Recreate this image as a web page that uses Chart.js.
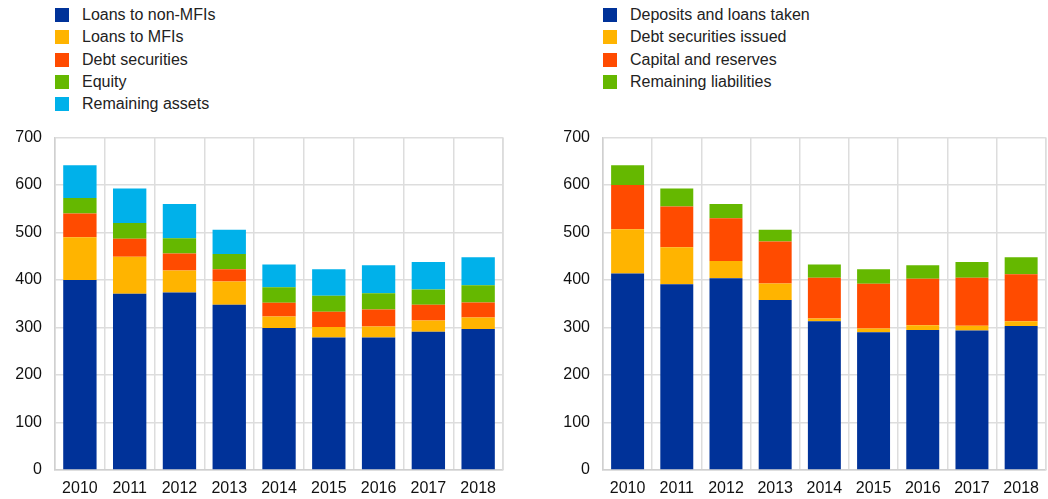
<!DOCTYPE html>
<html>
<head>
<meta charset="utf-8">
<script src="https://cdn.jsdelivr.net/npm/chart.js@4/dist/chart.umd.min.js"></script>
<style>
  html, body { margin: 0; padding: 0; background: #fff; }
  body { width: 1048px; height: 499px; position: relative; overflow: hidden; font-family: "Liberation Sans", Arial, sans-serif; }
  .legend { position: absolute; top: 4px; margin: 0; padding: 0; list-style: none; z-index: 2; }
  .legend li { height: 22.3px; line-height: 22px; font-size: 16px; color: #222; white-space: nowrap; position: relative; padding-left: 27px; }
  .legend li span { position: absolute; left: 0; top: 4px; width: 14px; height: 14px; }
  .box { position: absolute; top: 115px; height: 384px; }
</style>
</head>
<body>
<ul class="legend" id="legL" style="left:55px"></ul>
<ul class="legend" id="legR" style="left:603px"></ul>
<div class="box" style="left:0; width:505px"><canvas id="cL"></canvas></div>
<div class="box" style="left:548px; width:500px"><canvas id="cR"></canvas></div>
<script>
const years = ["2010","2011","2012","2013","2014","2015","2016","2017","2018"];
const yTicks = [0,100,200,300,400,500,600,700];

// Assets (left panel)
const assetNames = ["Loans to non-MFIs","Loans to MFIs","Debt securities","Equity","Remaining assets"];
const loansNonMFI   = [400,371,374,348,299,279,279,291,297];
const loansMFI      = [90, 78, 46, 49, 24, 22, 23, 24, 24];
const debtSec       = [50, 38, 36, 26, 29, 32, 36, 33, 32];
const equity        = [33, 33, 32, 32, 33, 34, 34, 32, 36];
const remainingAss  = [69, 73, 72, 51, 48, 56, 59, 58, 59];

// Liabilities (right panel)
const liabNames = ["Deposits and loans taken","Debt securities issued","Capital and reserves","Remaining liabilities"];
const depositsLoans = [414,391,404,358,313,290,295,294,303];
const debtIssued    = [93, 78, 36, 35, 6,  8,  10, 10, 10];
const capitalRes    = [93, 86, 90, 88, 86, 94, 98, 101,99];
const remainingLiab = [42, 38, 30, 25, 28, 31, 28, 33, 36];

const colors5 = ["#003299","#FFB400","#FF4B00","#65B800","#00B1EA"];
const colors4 = ["#003299","#FFB400","#FF4B00","#65B800"];

function legend(id, names, cols) {
  const ul = document.getElementById(id);
  names.forEach((n,i) => {
    const li = document.createElement('li');
    const s = document.createElement('span');
    s.style.background = cols[i];
    li.appendChild(s);
    li.appendChild(document.createTextNode(n));
    ul.appendChild(li);
  });
}
legend('legL', assetNames, colors5);
legend('legR', liabNames, colors4);

function makeChart(id, names, series, cols) {
  return new Chart(document.getElementById(id), {
    type: 'bar',
    data: {
      labels: years,
      datasets: series.map((d,i) => ({
        label: names[i], data: d, backgroundColor: cols[i],
        borderWidth: 0, categoryPercentage: 1, barPercentage: 0.67
      }))
    },
    options: {
      responsive: true, maintainAspectRatio: false, animation: false,
      layout: { padding: { top: 3, right: 1, left: 0, bottom: 0 } },
      plugins: { legend: { display: false }, tooltip: { enabled: false } },
      scales: {
        x: {
          stacked: true,
          grid: { color: '#dddddd', lineWidth: 1.5, offset: true, drawTicks: false },
          border: { color: '#d0d0d0', width: 1.5 },
          ticks: { color: '#111', font: { family: 'Liberation Sans', size: 16 }, padding: 9, maxRotation: 0 },
          afterFit: s => { s.height = 29; }
        },
        y: {
          stacked: true, min: 0, max: 700,
          afterBuildTicks: s => { s.ticks = yTicks.map(v => ({ value: v })); },
          grid: { color: '#dddddd', lineWidth: 1.5, drawTicks: false },
          border: { color: '#d0d0d0', width: 1.5 },
          ticks: { color: '#111', font: { family: 'Liberation Sans', size: 16 }, padding: 13 },
          afterFit: s => { s.width = 55; }
        }
      }
    },
    plugins: [{
      id: 'rightBorder',
      afterDraw(c) {
        const a = c.chartArea, ctx = c.ctx;
        ctx.save(); ctx.strokeStyle = '#dddddd'; ctx.lineWidth = 1.5;
        ctx.beginPath(); ctx.moveTo(a.right, a.top); ctx.lineTo(a.right, a.bottom); ctx.stroke();
        ctx.restore();
      }
    }]
  });
}
makeChart('cL', assetNames, [loansNonMFI, loansMFI, debtSec, equity, remainingAss], colors5);
makeChart('cR', liabNames, [depositsLoans, debtIssued, capitalRes, remainingLiab], colors4);
</script>
</body>
</html>
